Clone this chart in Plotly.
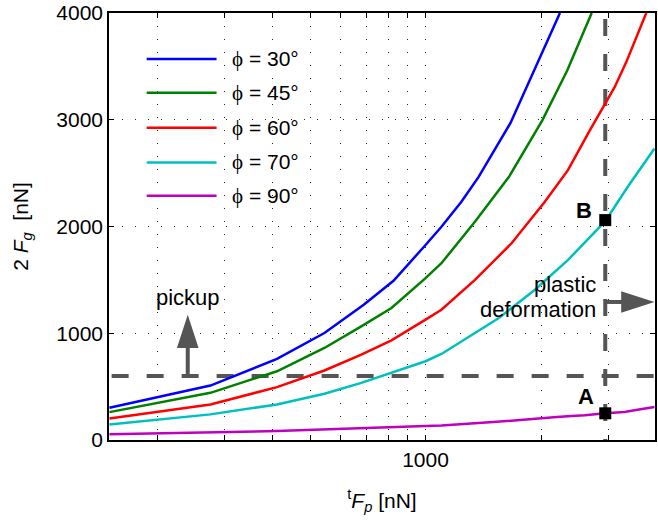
import numpy as np
import plotly.graph_objects as go

# ---- data ----
x30 = [150, 275, 410, 545, 690, 825, 1000, 1100, 1240, 1375, 1665, 1850, 2060, 2240]
y30 = [302, 510, 760, 1002, 1267, 1491, 1827, 1998, 2232, 2465, 2970, 3337, 3695, 4000]

x45 = [150, 275, 410, 545, 680, 815, 1000, 1100, 1345, 1650, 2015, 2340, 2710]
y45 = [261, 442, 644, 862, 1065, 1236, 1516, 1656, 2045, 2465, 2995, 3461, 4000]

x60 = [150, 275, 410, 545, 680, 815, 1000, 1100, 1345, 1676, 2046, 2350, 2680, 2900, 3110, 3335, 3760]
y60 = [202, 333, 495, 651, 800, 934, 1127, 1220, 1500, 1843, 2232, 2528, 2900, 3120, 3305, 3540, 4000]

x70 = [150, 275, 410, 545, 680, 815, 1000, 1100, 1345, 1549, 1928, 2352, 2940, 3365, 3950]
y70 = [146, 240, 333, 433, 535, 629, 738, 806, 1002, 1140, 1407, 1687, 2050, 2372, 2730]

x90 = [150, 410, 1000, 1100, 1500, 1650, 1800, 2000, 2200, 2400, 2600, 2940, 3100, 3300, 3600, 3950]
y90 = [53, 84, 131, 137, 168, 178, 190, 198, 215, 225, 232, 250, 255, 262, 285, 310]

series_names = ["ϕ = 30°", "ϕ = 45°", "ϕ = 60°", "ϕ = 70°", "ϕ = 90°"]
series_colors = ["#0000ff", "#008000", "#ff0000", "#00bfbf", "#bf00bf"]

pickup_level = 600          # horizontal dashed line
plastic_limit = 2940        # vertical dashed line
point_labels = ["A", "B"]
point_y = [250, 2060]

x_ticks = [200, 300, 400, 500, 600, 700, 800, 900, 1000, 2000, 3000]
x_ticktext = ["", "", "", "", "", "", "", "", "1000", "", ""]
y_ticks = [0, 1000, 2000, 3000, 4000]

# arrows
pickup_x = 240
pickup_tip = 1174
plastic_y = 1293
plastic_tip = 3950

FONT = "Liberation Sans, Arial, sans-serif"
GRAY = "#555555"
FS = 21
FS_TXT = 22

fig = go.Figure()

# dashed guide lines
fig.add_trace(go.Scatter(x=[152, 4200], y=[pickup_level, pickup_level], mode="lines",
                         line=dict(color=GRAY, width=4, dash="17px,18px"),
                         showlegend=False, hoverinfo="skip"))
fig.add_trace(go.Scatter(x=[plastic_limit, plastic_limit], y=[3944, -200], mode="lines",
                         line=dict(color=GRAY, width=4, dash="17px,18px"),
                         showlegend=False, hoverinfo="skip"))

xs = [x30, x45, x60, x70, x90]
ys = [y30, y45, y60, y70, y90]
for xx, yy, nm, col in zip(xs, ys, series_names, series_colors):
    fig.add_trace(go.Scatter(x=xx, y=yy, mode="lines", name=nm,
                             line=dict(color=col, width=2.5), showlegend=False))

# arrows (shaft + head)
fig.add_trace(go.Scatter(x=[pickup_x, pickup_x], y=[pickup_level, pickup_tip - 150], mode="lines",
                         line=dict(color=GRAY, width=4), showlegend=False, hoverinfo="skip"))
fig.add_trace(go.Scatter(x=[pickup_x], y=[pickup_tip], mode="markers",
                         marker=dict(symbol="arrow", size=35, angle=0, color=GRAY, line=dict(width=0)),
                         showlegend=False, hoverinfo="skip", cliponaxis=False))
fig.add_trace(go.Scatter(x=[plastic_limit, plastic_tip * 0.9], y=[plastic_y, plastic_y], mode="lines",
                         line=dict(color=GRAY, width=4), showlegend=False, hoverinfo="skip"))
fig.add_trace(go.Scatter(x=[plastic_tip], y=[plastic_y], mode="markers",
                         marker=dict(symbol="arrow", size=35, angle=90, color=GRAY, line=dict(width=0)),
                         showlegend=False, hoverinfo="skip", cliponaxis=False))

# points A, B
fig.add_trace(go.Scatter(x=[plastic_limit] * 2, y=point_y, mode="markers",
                         marker=dict(symbol="square", size=12, color="black"),
                         showlegend=False, hoverinfo="skip", cliponaxis=False))

axis_common = dict(showline=True, linecolor="black", linewidth=1.5, mirror="ticks",
                   ticks="inside", ticklen=5, tickwidth=1, tickcolor="black",
                   showgrid=True, gridcolor="#222222", gridwidth=1, griddash="1px,12px",
                   zeroline=False, tickfont=dict(family=FONT, size=FS, color="black"))

fig.update_xaxes(type="log", range=[2.175, 3.598], tickmode="array",
                 tickvals=x_ticks, ticktext=x_ticktext,
                 title=dict(text="<sup>t</sup><i>F</i><sub><i>p</i></sub> [nN]",
                            font=dict(family=FONT, size=FS, color="black"), standoff=23),
                 **axis_common)
fig.update_yaxes(range=[0, 4000], tickmode="array", tickvals=y_ticks,
                 title=dict(text="2 <i>F</i><sub><i>g</i></sub>  [nN]",
                            font=dict(family=FONT, size=FS, color="black"), standoff=22),
                 **axis_common)

annotations = []
shapes = []
# manual legend
leg_y = [0.8925, 0.813, 0.731, 0.650, 0.572]
for nm, col, py in zip(series_names, series_colors, leg_y):
    shapes.append(dict(type="line", xref="paper", yref="paper", x0=0.069, x1=0.197, y0=py, y1=py,
                       line=dict(color=col, width=2.5)))
    annotations.append(dict(xref="paper", yref="paper", x=0.222, y=py, xanchor="left", yanchor="middle",
                            text=nm.replace("ϕ", "<span style='font-family:Liberation Serif'>ϕ</span>"),
                            showarrow=False, font=dict(family=FONT, size=FS, color="black")))

annotations.append(dict(x=np.log10(pickup_x), y=1331, text="pickup", showarrow=False,
                        xanchor="center", yanchor="middle",
                        font=dict(family=FONT, size=FS_TXT, color="black")))
annotations.append(dict(x=np.log10(2810), y=1454, text="plastic", showarrow=False,
                        xanchor="right", yanchor="middle",
                        font=dict(family=FONT, size=FS_TXT, color="black")))
annotations.append(dict(x=np.log10(2810), y=1220, text="deformation", showarrow=False,
                        xanchor="right", yanchor="middle",
                        font=dict(family=FONT, size=FS_TXT, color="black")))
annotations.append(dict(x=np.log10(2618), y=412, text="<b>A</b>", showarrow=False,
                        xanchor="center", yanchor="middle",
                        font=dict(family=FONT, size=FS_TXT, color="black")))
annotations.append(dict(x=np.log10(2586), y=2152, text="<b>B</b>", showarrow=False,
                        xanchor="center", yanchor="middle",
                        font=dict(family=FONT, size=FS_TXT, color="black")))

fig.update_layout(width=658, height=531, margin=dict(l=109, r=1, t=12, b=91),
                  paper_bgcolor="white", plot_bgcolor="white",
                  font=dict(family=FONT, size=FS, color="black"),
                  showlegend=False, annotations=annotations, shapes=shapes)

fig.write_html("out.html")
